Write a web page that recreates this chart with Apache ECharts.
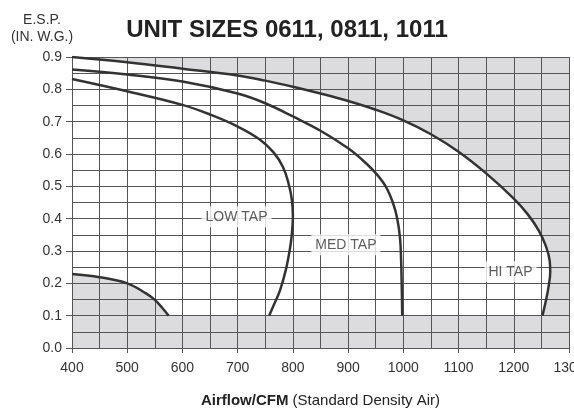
<!DOCTYPE html>
<html>
<head>
<meta charset="utf-8">
<script src="https://cdn.jsdelivr.net/npm/echarts@6/dist/echarts.min.js"></script>
<style>
  html, body { margin: 0; padding: 0; background: #fff; }
  #chart { width: 574px; height: 410px; }
</style>
</head>
<body>
<div id="chart"></div>
<script>
// fan curves, [cfm, in. w.g.]
const hiTap = [
  [400, 0.9], [500, 0.884], [600, 0.864], [700, 0.843], [750, 0.827], [800, 0.808],
  [850, 0.787], [900, 0.764], [950, 0.737], [1000, 0.704], [1050, 0.661], [1100, 0.607],
  [1150, 0.54], [1200, 0.462], [1225, 0.414], [1245, 0.364], [1258, 0.316], [1265, 0.27],
  [1266, 0.235], [1263, 0.19], [1258, 0.145], [1252, 0.1]
]
const medTap = [
  [400, 0.861], [500, 0.846], [600, 0.824], [700, 0.787], [750, 0.757], [800, 0.716],
  [850, 0.672], [900, 0.618], [925, 0.583], [950, 0.541], [968, 0.5], [981, 0.45],
  [989, 0.4], [994, 0.34], [996, 0.27], [997, 0.2], [998, 0.1]
]
const lowTap = [
  [400, 0.832], [500, 0.794], [600, 0.752], [650, 0.722], [700, 0.685], [740, 0.645],
  [765, 0.605], [782, 0.56], [792, 0.51], [798, 0.46], [800, 0.41], [798, 0.35],
  [794, 0.3], [787, 0.24], [777, 0.18], [766, 0.135], [757, 0.1]
]
const minCurve = [
  [400, 0.229], [450, 0.219], [500, 0.2], [534, 0.169], [550, 0.149], [564, 0.123], [575, 0.1]
]

// grey "out of range" regions
const shadeTop = hiTap.concat([[1300, 0.1], [1300, 0.9]])
const shadeBottom = [[400, 0], [1300, 0], [1300, 0.1], [400, 0.1]]
const shadeLeft = minCurve.concat([[400, 0.1]])
const shades = [shadeTop, shadeBottom, shadeLeft]

const tapNames = ['LOW TAP', 'MED TAP', 'HI TAP']
const tapLabelPos = [[698, 0.406], [896, 0.319], [1194, 0.236]]

const xMin = 400
const xMax = 1300
const yMax = 0.9

const gridColor = '#555'
const curveColor = '#333'
const font = '"Liberation Sans", Arial, sans-serif'

const chart = echarts.init(document.getElementById('chart'), null, { renderer: 'canvas' })

const curveSeries = (data) => ({
  type: 'line',
  data,
  z: 3,
  smooth: 0.4,
  showSymbol: false,
  silent: true,
  lineStyle: { color: curveColor, width: 2.5 }
})

chart.setOption({
  animation: false,
  backgroundColor: '#fff',
  textStyle: { fontFamily: font },
  title: {
    text: 'UNIT SIZES 0611, 0811, 1011',
    left: 'center',
    top: 13,
    textStyle: { fontFamily: font, fontSize: 24, fontWeight: 'bold', color: '#222' }
  },
  graphic: [{
    type: 'text',
    x: 42,
    y: 12,
    style: {
      text: 'E.S.P.\n(IN. W.G.)',
      font: '14px ' + font,
      fill: '#333',
      align: 'center',
      lineHeight: 17
    }
  }],
  grid: { left: 72, right: 5, top: 57, bottom: 62, outerBoundsMode: 'none' },
  xAxis: {
    type: 'value',
    min: xMin,
    max: xMax,
    interval: 100,
    z: 2,
    name: '{b|Airflow/CFM} (Standard Density Air)',
    nameLocation: 'middle',
    nameGap: 45,
    nameTextStyle: {
      fontFamily: font,
      fontSize: 15,
      color: '#222',
      rich: { b: { fontFamily: font, fontSize: 15, fontWeight: 'bold', color: '#222' } }
    },
    axisLine: { show: true, lineStyle: { color: gridColor, width: 1 } },
    axisTick: { show: true, length: 5, lineStyle: { color: gridColor } },
    axisLabel: {
      fontSize: 14,
      color: '#333',
      margin: 13,
      fontFamily: font,
      formatter: (v) => String(v)
    },
    splitLine: { show: true, lineStyle: { color: gridColor, width: 1 } },
    minorTick: { show: false, splitNumber: 2 },
    minorSplitLine: { show: true, lineStyle: { color: gridColor, width: 1 } }
  },
  yAxis: {
    type: 'value',
    min: 0,
    max: yMax,
    interval: 0.1,
    z: 2,
    axisLine: { show: true, lineStyle: { color: gridColor, width: 1 } },
    axisTick: { show: true, length: 6, lineStyle: { color: gridColor } },
    axisLabel: {
      fontSize: 14,
      color: '#333',
      margin: 10,
      fontFamily: font,
      formatter: (v) => v.toFixed(1)
    },
    splitLine: { show: true, lineStyle: { color: gridColor, width: 1 } },
    minorTick: { show: false, splitNumber: 2 },
    minorSplitLine: { show: true, lineStyle: { color: gridColor, width: 1 } }
  },
  series: [
    {
      type: 'custom',
      z: 1,
      silent: true,
      data: shades.map((s, i) => [xMin, 0, i]),
      renderItem: (params, api) => {
        const pts = shades[params.dataIndex].map((p) => api.coord(p))
        return {
          type: 'polygon',
          shape: { points: pts },
          style: { fill: '#dcdcde', stroke: null }
        }
      }
    },
    curveSeries(hiTap),
    curveSeries(medTap),
    curveSeries(lowTap),
    curveSeries(minCurve),
    {
      type: 'scatter',
      z: 4,
      silent: true,
      symbolSize: 0,
      data: tapNames.map((name, i) => ({ name, value: tapLabelPos[i] })),
      label: {
        show: true,
        position: 'inside',
        formatter: '{b}',
        fontFamily: font,
        fontSize: 14,
        color: '#333',
        backgroundColor: '#fff',
        padding: [4, 4, 3, 4]
      }
    }
  ]
})
</script>
</body>
</html>
